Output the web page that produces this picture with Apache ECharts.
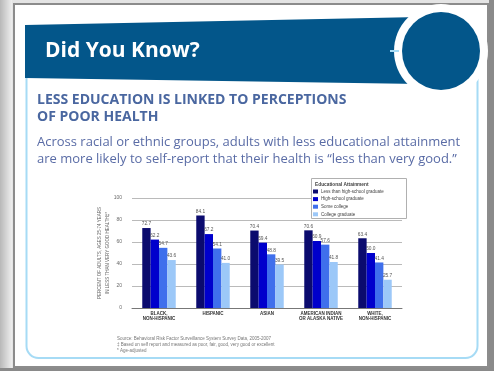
<!DOCTYPE html>
<html><head><meta charset="utf-8">
<script src="https://cdn.jsdelivr.net/npm/echarts@6/dist/echarts.min.js"></script>
<style>html,body{margin:0;padding:0;background:#e4e4e4;}#c{width:494px;height:371px;}</style>
</head><body><div id="c"></div>
<script>
const categories = ['BLACK,\nNON-HISPANIC', 'HISPANIC', 'ASIAN', 'AMERICAN INDIAN\nOR ALASKA NATIVE', 'WHITE,\nNON-HISPANIC'];
const seriesNames = ['Less than high-school graduate', 'High-school graduate', 'Some college', 'College graduate'];
const lessThanHS = [72.7, 84.1, 70.4, 70.6, 63.4];
const hsGrad = [62.2, 67.2, 59.4, 60.9, 50.0];
const someCollege = [54.7, 54.1, 48.8, 57.6, 41.4];
const collegeGrad = [43.6, 41.0, 39.5, 41.8, 25.7];
const yTicks = [0, 20, 40, 60, 80, 100];
const colors = ['#0b0b6e', '#0000cc', '#3f6fec', '#9cc8f8'];
const values = [lessThanHS, hsGrad, someCollege, collegeGrad];

const chart = echarts.init(document.getElementById('c'), null, {renderer: 'canvas'});
const grey = '#6a6a6a';
const option = {
  animation: false,
  backgroundColor: '#e4e4e4',
  grid: {left: 132, right: 92, top: 198, bottom: 63, containLabel: false},
  xAxis: {
    type: 'category', data: categories,
    axisTick: {show: false},
    axisLine: {lineStyle: {color: '#777', width: 1}},
    axisLabel: {fontSize: 4.5, fontWeight: 'bold', color: '#333', lineHeight: 5.5, margin: 3, fontFamily: 'Liberation Sans', interval: 0}
  },
  yAxis: {
    type: 'value', min: yTicks[0], max: yTicks[yTicks.length - 1], interval: 20,
    axisLine: {show: false}, axisTick: {show: false},
    splitLine: {lineStyle: {color: '#a8a8a8', width: 0.8}},
    axisLabel: {fontSize: 5, color: grey, margin: 10, fontFamily: 'Liberation Sans'}
  },
  legend: {
    orient: 'vertical', left: 313, top: 189, z: 20,
    itemWidth: 5, itemHeight: 4, itemGap: 2.6, padding: 0,
    icon: 'rect',
    textStyle: {fontSize: 4.5, color: '#444', padding: [0, 0, 0, -2], fontFamily: 'Liberation Sans'},
    data: seriesNames
  },
  series: values.map((v, i) => ({
    name: seriesNames[i], type: 'bar', data: v,
    barGap: '0%', barCategoryGap: '38%',
    itemStyle: {color: colors[i]},
    label: {show: true, position: 'top', distance: 1.5, fontSize: 4.8, color: '#555', fontFamily: 'Liberation Sans',
      formatter: p => p.value.toFixed(1)}
  })),
  graphic: [
    {type: 'rect', z: -10, shape: {x: 0, y: 0, width: 12, height: 371},
      style: {fill: new echarts.graphic.LinearGradient(0, 0, 1, 0, [{offset: 0, color: '#b8b8b8'}, {offset: 1, color: '#eeeeee'}])}},
    {type: 'rect', z: -10, shape: {x: 489, y: 0, width: 5, height: 371}, style: {fill: '#8a8a8a'}},
    {type: 'rect', z: -10, shape: {x: 0, y: 368, width: 494, height: 3}, style: {fill: '#8a8a8a'}},
    {type: 'rect', z: -9, shape: {x: 14, y: 4, width: 474, height: 363}, style: {fill: '#ffffff', stroke: '#8c8c8c', lineWidth: 2}},
    {type: 'rect', z: -8, shape: {x: 26.5, y: 40, width: 451, height: 318, r: 12}, style: {fill: '#ffffff', stroke: '#a6dbf5', lineWidth: 2}},
    {type: 'polygon', z: -7, shape: {points: [[25, 25], [420, 17], [420, 84], [25, 78]]}, style: {fill: '#03568a'}},
    {type: 'circle', z: -6, shape: {cx: 441, cy: 51, r: 47}, style: {fill: '#ffffff'}},
    {type: 'circle', z: -5, shape: {cx: 441, cy: 51, r: 39}, style: {fill: '#03568a'}},
    {type: 'rect', z: -5, shape: {x: 390, y: 50, width: 9, height: 2}, style: {fill: '#a6dbf5'}},
    {type: 'text', z: 5, left: 45, top: 41, style: {text: 'Did You Know?', fill: '#ffffff', font: 'bold 21px "Open Sans"'}},
    {type: 'text', z: 5, left: 37, top: 92, style: {text: 'LESS EDUCATION IS LINKED TO PERCEPTIONS\nOF POOR HEALTH', fill: '#4a67a0', font: 'bold 14px "Open Sans"', lineHeight: 17}},
    {type: 'text', z: 5, left: 37, top: 134, style: {text: 'Across racial or ethnic groups, adults with less educational attainment\nare more likely to self-report that their health is \u201cless than very good.\u201d', fill: '#5a6ca6', font: '13px "Open Sans"', lineHeight: 17}},
    {type: 'text', z: 5, x: 104, y: 253, rotation: Math.PI / 2,
      style: {text: 'PERCENT OF ADULTS, AGES 25-74 YEARS\nIN LESS THAN VERY GOOD HEALTH\u2021*', fill: grey, font: '4.5px "Liberation Sans"', align: 'center', verticalAlign: 'middle', lineHeight: 7.5}},
    {type: 'rect', z: 15, shape: {x: 311.5, y: 178.5, width: 95, height: 40}, style: {fill: '#ffffff', stroke: '#b0b0b0', lineWidth: 1}},
    {type: 'text', z: 16, left: 315, top: 182, style: {text: 'Educational Attainment', fill: '#444', font: 'bold 4.8px "Liberation Sans"'}},
    {type: 'text', z: 5, left: 117, top: 336, style: {text: 'Source: Behavioral Risk Factor Surveillance System Survey Data, 2005-2007\n\u2021 Based on self report and measured as poor, fair, good, very good or excellent\n* Age-adjusted', fill: '#777', font: '4.5px "Liberation Sans"', lineHeight: 6}}
  ]
};
chart.setOption(option);
</script></body></html>
